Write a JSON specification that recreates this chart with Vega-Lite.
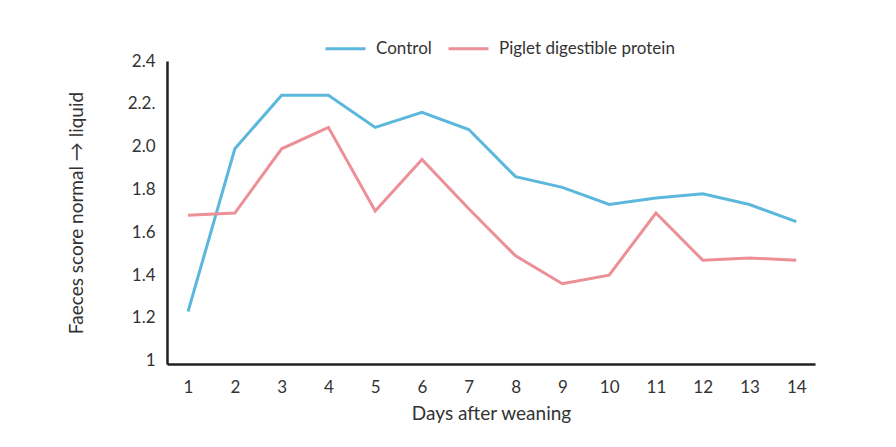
{
  "$schema": "https://vega.github.io/schema/vega-lite/v6.json",
  "autosize": {"type": "none"},
  "padding": {"left": 167, "top": 61, "right": 81, "bottom": 83},
  "width": 648,
  "height": 303,
  "background": "white",
  "config": {
    "view": {"stroke": null},
    "font": "Lato",
    "axis": {"grid": false, "ticks": false, "domainColor": "#231f20", "domainWidth": 2.5, "labelColor": "#333333", "titleColor": "#333333", "labelFontSize": 17, "titleFontSize": 19, "titleFontWeight": "normal", "labelFont": "Lato", "titleFont": "Lato"}
  },
  "data": {
    "values": [
      {"day": 1, "group": "Control", "score": 1.23},
      {"day": 2, "group": "Control", "score": 1.99},
      {"day": 3, "group": "Control", "score": 2.24},
      {"day": 4, "group": "Control", "score": 2.24},
      {"day": 5, "group": "Control", "score": 2.09},
      {"day": 6, "group": "Control", "score": 2.16},
      {"day": 7, "group": "Control", "score": 2.08},
      {"day": 8, "group": "Control", "score": 1.86},
      {"day": 9, "group": "Control", "score": 1.81},
      {"day": 10, "group": "Control", "score": 1.73},
      {"day": 11, "group": "Control", "score": 1.76},
      {"day": 12, "group": "Control", "score": 1.78},
      {"day": 13, "group": "Control", "score": 1.73},
      {"day": 14, "group": "Control", "score": 1.65},
      {"day": 1, "group": "Piglet digestible protein", "score": 1.68},
      {"day": 2, "group": "Piglet digestible protein", "score": 1.69},
      {"day": 3, "group": "Piglet digestible protein", "score": 1.99},
      {"day": 4, "group": "Piglet digestible protein", "score": 2.09},
      {"day": 5, "group": "Piglet digestible protein", "score": 1.7},
      {"day": 6, "group": "Piglet digestible protein", "score": 1.94},
      {"day": 7, "group": "Piglet digestible protein", "score": 1.71},
      {"day": 8, "group": "Piglet digestible protein", "score": 1.49},
      {"day": 9, "group": "Piglet digestible protein", "score": 1.36},
      {"day": 10, "group": "Piglet digestible protein", "score": 1.4},
      {"day": 11, "group": "Piglet digestible protein", "score": 1.69},
      {"day": 12, "group": "Piglet digestible protein", "score": 1.47},
      {"day": 13, "group": "Piglet digestible protein", "score": 1.48},
      {"day": 14, "group": "Piglet digestible protein", "score": 1.47}
    ]
  },
  "mark": {"type": "line", "strokeWidth": 3},
  "encoding": {
    "x": {
      "field": "day", "type": "quantitative",
      "scale": {"domain": [0.55, 14.4], "nice": false, "zero": false},
      "axis": {"values": [1,2,3,4,5,6,7,8,9,10,11,12,13,14], "title": "Days after weaning", "labelPadding": 15, "titlePadding": 9, "labelFlush": false}
    },
    "y": {
      "field": "score", "type": "quantitative",
      "scale": {"domain": [0.985, 2.4], "nice": false, "zero": false},
      "axis": {"values": [1, 1.2, 1.4, 1.6, 1.8, 2.0, 2.2, 2.4], "title": "Faeces score normal → liquid", "labelPadding": 12, "titlePadding": 41, "labelFlush": false,
        "labelExpr": "datum.value == 1 ? '1' : (abs(datum.value - 2.2) < 0.001 ? '2.2.' : format(datum.value, '.1f'))"}
    },
    "color": {
      "field": "group", "type": "nominal",
      "scale": {"domain": ["Control", "Piglet digestible protein"], "range": ["#5bb8dc", "#ec8f96"]},
      "legend": {"title": null, "orient": "none", "direction": "horizontal", "legendX": 157, "legendY": -34, "symbolType": "stroke", "symbolSize": 1600, "symbolStrokeWidth": 3, "labelFontSize": 17, "labelLimit": 0, "labelColor": "#333333", "labelFont": "Lato", "columnPadding": 10, "labelOffset": 9}
    }
  }
}
